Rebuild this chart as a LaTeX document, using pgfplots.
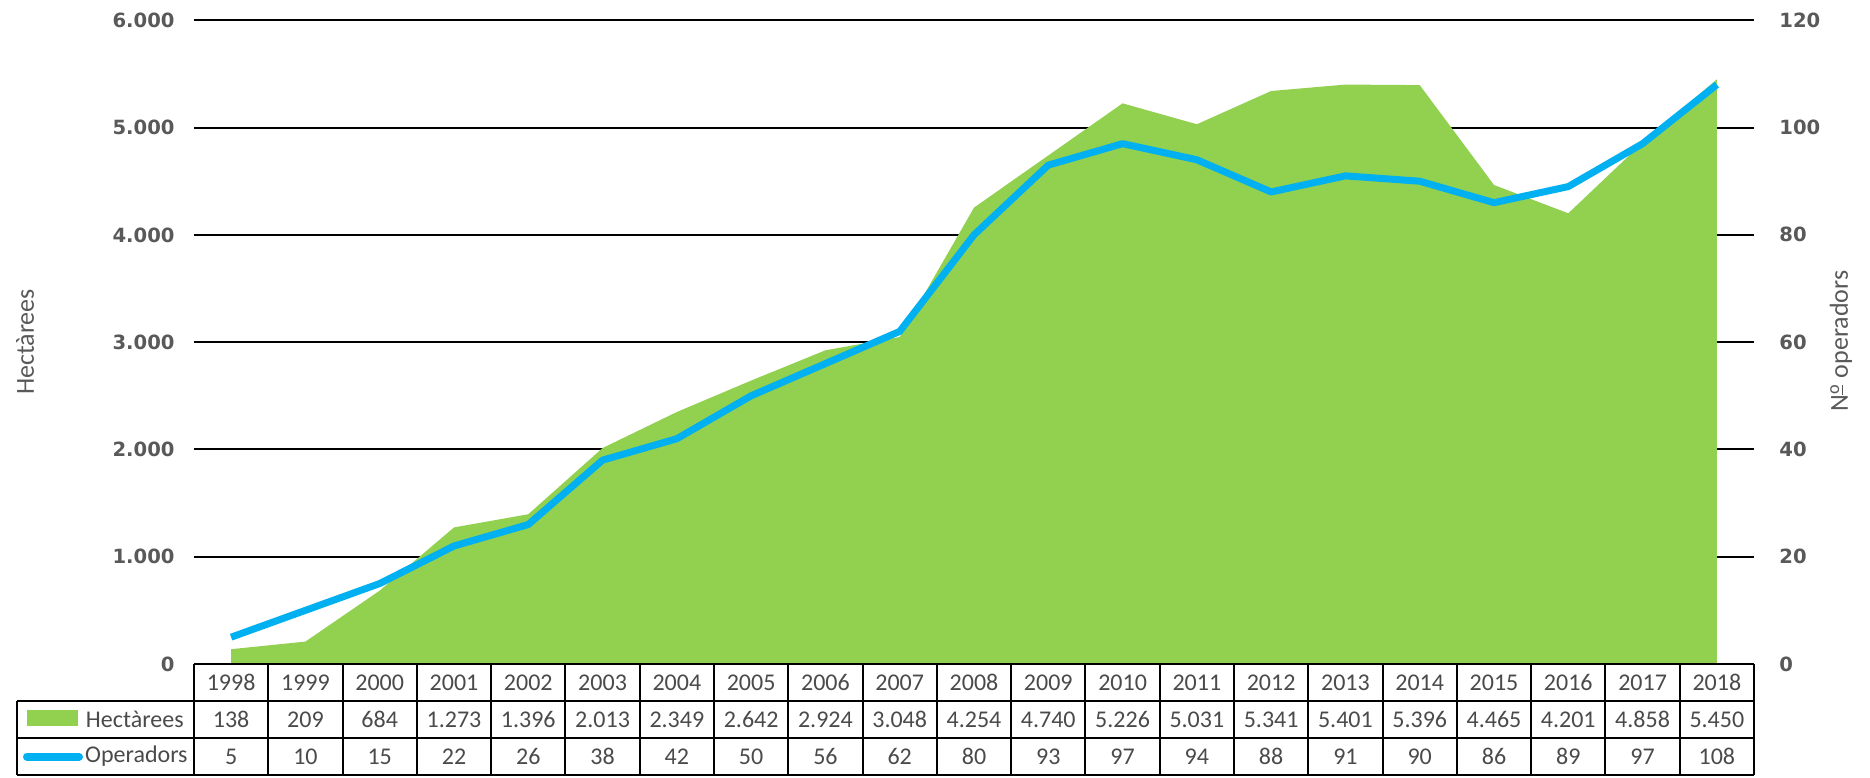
\documentclass[border=0pt]{standalone}
\usepackage{pgfplots}
\pgfplotsset{compat=1.18}
\usepackage{pgfplotstable}
\usepackage{fontspec}
\setmainfont{Carlito}
\newfontfamily\tickfont{DejaVu Sans}
\definecolor{areagreen}{HTML}{92D050}
\definecolor{lineblue}{HTML}{00B0F0}
\definecolor{txtgray}{HTML}{595959}
\definecolor{tabgray}{HTML}{4A4A4A}

\pgfplotstableread{
x year hect oper
0 1998 138 5
1 1999 209 10
2 2000 684 15
3 2001 1273 22
4 2002 1396 26
5 2003 2013 38
6 2004 2349 42
7 2005 2642 50
8 2006 2924 56
9 2007 3048 62
10 2008 4254 80
11 2009 4740 93
12 2010 5226 97
13 2011 5031 94
14 2012 5341 88
15 2013 5401 91
16 2014 5396 90
17 2015 4465 86
18 2016 4201 89
19 2017 4858 97
20 2018 5450 108
}\datatable

\begin{document}
\begin{tikzpicture}
\useasboundingbox (-97pt,-56.5pt) rectangle (838pt,332pt);
\begin{axis}[
  at={(0pt,0pt)}, anchor=south west, scale only axis,
  width=780pt, height=321.85pt,
  xmin=-0.5, xmax=20.5, ymin=0, ymax=6000,
  axis line style={draw=none},
  xtick=\empty,
  ytick={0,1000,2000,3000,4000,5000,6000},
  yticklabels={0,1.000,2.000,3.000,4.000,5.000,6.000},
  major tick length=0pt,
  ymajorgrids, grid style={black, line width=1pt},
  yticklabel style={font=\tickfont\bfseries\fontsize{9.8}{11}\selectfont, text=txtgray, anchor=east, inner sep=0pt, xshift=-9.5pt},
  clip=false,
]
\addplot[fill=areagreen, draw=none] table[x=x,y=hect]{\datatable} \closedcycle;
\end{axis}
\begin{axis}[
  at={(0pt,0pt)}, anchor=south west, scale only axis,
  width=780pt, height=321.85pt,
  xmin=-0.5, xmax=20.5, ymin=0, ymax=120,
  axis y line*=right, axis x line=none,
  axis line style={draw=none},
  xtick=\empty,
  ytick={0,20,40,60,80,100,120},
  yticklabels={0,20,40,60,80,100,120},
  major tick length=0pt,
  yticklabel style={font=\tickfont\bfseries\fontsize{9.8}{11}\selectfont, text=txtgray, anchor=west, inner sep=0pt, xshift=12.5pt},
  clip=false,
]
\addplot[lineblue, line width=3.5pt, line join=round] table[x=x,y=oper]{\datatable};
\end{axis}
% data table
\def\cw{37.142857}
\begin{scope}[line width=1pt, black]
\draw (0pt,0pt) -- (780pt,0pt);
\draw (-88.5pt,-18.5pt) -- (780pt,-18.5pt);
\draw (-88.5pt,-37pt) -- (780pt,-37pt);
\draw (-88.5pt,-55.5pt) -- (780pt,-55.5pt);
\draw (-88.5pt,-18.5pt) -- (-88.5pt,-55.5pt);
\foreach \j in {0,...,21} \draw ({\j*\cw pt},0pt) -- ({\j*\cw pt},-55.5pt);
\end{scope}
\begin{scope}[every node/.style={text=tabgray, font=\fontsize{12}{14}\selectfont, inner sep=0pt}]
\foreach \t [count=\i from 0] in {1998,1999,2000,2001,2002,2003,2004,2005,2006,2007,2008,2009,2010,2011,2012,2013,2014,2015,2016,2017,2018}
  \node at ({(\i+0.5)*\cw pt},-9.25pt) {\t};
\foreach \t [count=\i from 0] in {138,209,684,1.273,1.396,2.013,2.349,2.642,2.924,3.048,4.254,4.740,5.226,5.031,5.341,5.401,5.396,4.465,4.201,4.858,5.450}
  \node at ({(\i+0.5)*\cw pt},-27.75pt) {\t};
\foreach \t [count=\i from 0] in {5,10,15,22,26,38,42,50,56,62,80,93,97,94,88,91,90,86,89,97,108}
  \node at ({(\i+0.5)*\cw pt},-46.25pt) {\t};
\node[anchor=east] at (-5pt,-27.75pt) {Hectàrees};
\node[anchor=east] at (-3pt,-46.25pt) {Operadors};
\end{scope}
\fill[areagreen] (-83.5pt,-22.75pt) rectangle (-58pt,-30.75pt);
\draw[lineblue, line width=4pt, line cap=round] (-83.5pt,-46.25pt) -- (-57.5pt,-46.25pt);
% axis titles
\node[rotate=90, text=txtgray, font=\fontsize{13}{15}\selectfont] at (-84.5pt,161pt) {Hectàrees};
\node[rotate=90, text=txtgray, font=\fontsize{13}{15}\selectfont] at (823.5pt,161.5pt) {N\textsuperscript{\underline{o}} operadors};
\end{tikzpicture}
\end{document}
